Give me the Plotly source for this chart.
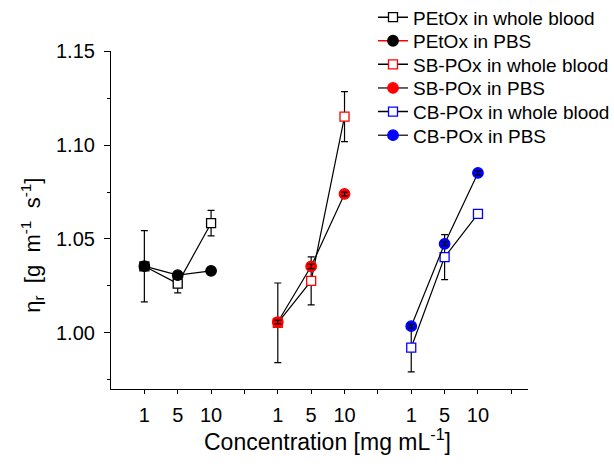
import plotly.graph_objects as go

# ---- data ----
groups = ["PEtOx", "SB-POx", "CB-POx"]
concentrations = ["1", "5", "10"]
tick_labels = ["1", "5", "10", "", "1", "5", "10", "", "1", "5", "10", ""]

petox_blood = [1.0354, 1.0262, 1.0584]
petox_blood_err = [0.0190, 0.0050, 0.0068]
petox_pbs = [1.0355, 1.0307, 1.0330]
petox_pbs_err = [0.0010, 0.0010, 0.0010]

sb_blood = [1.0053, 1.0276, 1.1152]
sb_blood_err = [0.0212, 0.0128, 0.0133]
sb_pbs = [1.0057, 1.0354, 1.0740]
sb_pbs_err = [0.0010, 0.0012, 0.0010]

cb_blood = [0.9921, 1.0403, 1.0634]
cb_blood_err = [0.0130, 0.0120, 0.0015]
cb_pbs = [1.0035, 1.0474, 1.0852]
cb_pbs_err = [0.0010, 0.0010, 0.0010]

FONT = "Liberation Sans, Arial, sans-serif"


def xpos(group_index):
    return [group_index * 4 + i + 1 for i in range(len(concentrations))]


series = [
    # name, group, y, err, symbol, fill, edge, legend line colour
    ("PEtOx in whole blood", 0, petox_blood, petox_blood_err, "square", "white", "black", "black"),
    ("PEtOx in PBS", 0, petox_pbs, petox_pbs_err, "circle", "black", "black", "red"),
    ("SB-POx in whole blood", 1, sb_blood, sb_blood_err, "square", "white", "red", "black"),
    ("SB-POx in PBS", 1, sb_pbs, sb_pbs_err, "circle", "red", "red", "#333333"),
    ("CB-POx in whole blood", 2, cb_blood, cb_blood_err, "square", "white", "blue", "black"),
    ("CB-POx in PBS", 2, cb_pbs, cb_pbs_err, "circle", "blue", "blue", "#333333"),
]

fig = go.Figure()

for name, g, y, err, sym, fill, edge, lcol in series:
    size = 9 if sym == "square" else 10.5
    fig.add_trace(go.Scatter(
        x=xpos(g), y=y, mode="lines+markers", showlegend=False,
        line=dict(color="black", width=1.2),
        marker=dict(symbol=sym, size=size, color=fill, line=dict(color=edge, width=1.3)),
        error_y=dict(type="data", array=err, visible=True, color="black", thickness=1.2, width=3.5),
    ))
    if sym == "circle":
        # small error bars drawn over the filled circles
        fig.add_trace(go.Scatter(
            x=xpos(g), y=y, mode="markers", showlegend=False, hoverinfo="skip",
            marker=dict(size=1, opacity=0),
            error_y=dict(type="data", array=err, visible=True, color="black", thickness=1.2, width=3.5),
        ))

legend_layouts = {}
for k, (name, g, y, err, sym, fill, edge, lcol) in enumerate(series):
    lname = "legend" if k == 0 else f"legend{k + 1}"
    size = 9 if sym == "square" else 10.5
    fig.add_trace(go.Scatter(
        x=[None], y=[None], mode="lines+markers", name=name, legend=lname,
        line=dict(color=lcol, width=1.5),
        marker=dict(symbol=sym, size=size, color=fill, line=dict(color=edge, width=1.3)),
    ))
    legend_layouts[lname] = dict(
        xref="container", yref="container",
        x=373 / 614, y=1 - (17.3 + 23.6 * k) / 469,
        xanchor="left", yanchor="middle",
        bgcolor="rgba(0,0,0,0)", borderwidth=0,
        font=dict(family=FONT, size=19, color="black"),
        itemwidth=30,
    )

fig.update_layout(
    width=614, height=469,
    margin=dict(l=110.5, r=85.7, t=50.7, b=80, autoexpand=False),
    paper_bgcolor="white", plot_bgcolor="white",
    font=dict(family=FONT, size=20, color="black"),
    **legend_layouts,
)

fig.update_xaxes(
    range=[0, 12.5],
    tickmode="array", tickvals=list(range(1, 13)), ticktext=tick_labels,
    ticks="outside", ticklen=4, tickwidth=1, tickcolor="black",
    ticklabelstandoff=4,
    showline=True, linecolor="black", linewidth=1.2,
    showgrid=False, zeroline=False,
    tickfont=dict(family=FONT, size=20),
)
fig.update_yaxes(
    range=[0.97, 1.1502],
    tick0=1.0, dtick=0.05, tickformat=".2f",
    ticks="outside", ticklen=6, tickwidth=1, tickcolor="black",
    ticklabelstandoff=5,
    minor=dict(dtick=0.025, tick0=1.0, ticks="outside", ticklen=3, tickcolor="black"),
    showline=True, linecolor="black", linewidth=1.2,
    showgrid=False, zeroline=False,
    tickfont=dict(family=FONT, size=20),
)

fig.add_annotation(
    text="Concentration [mg mL<sup>-1</sup>]",
    xref="paper", yref="paper", x=(327 - 110.5) / 417.8, y=(389 - 440) / 338.3,
    xanchor="center", yanchor="middle", showarrow=False,
    font=dict(family=FONT, size=23, color="black"),
)
fig.add_annotation(
    text="η<sub>r</sub>\u00a0 [g\u00a0 m<sup>-1</sup>\u00a0 s<sup>-1</sup>]",
    xref="paper", yref="paper", x=(31 - 110.5) / 417.8, y=(389 - 245) / 338.3,
    xanchor="center", yanchor="middle", textangle=-90, showarrow=False,
    font=dict(family=FONT, size=22, color="black"),
)

fig.write_html(
    "out.html",
    config={"displayModeBar": False},
    post_script="document.body.style.margin='0px';",
)
